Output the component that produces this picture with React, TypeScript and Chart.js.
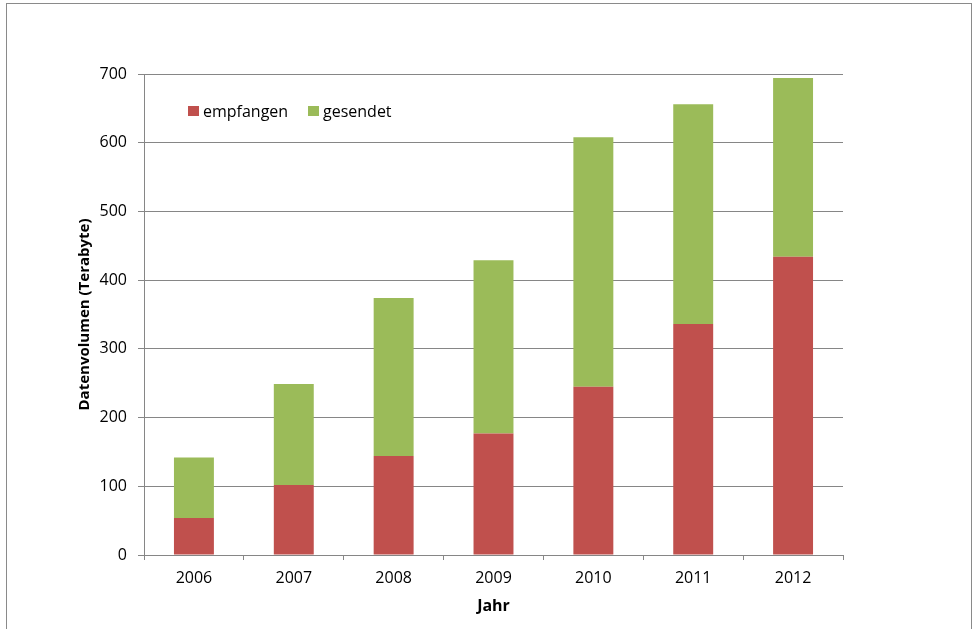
import React, { useEffect, useRef } from "react";
import { Chart, registerables } from "chart.js";

Chart.register(...registerables);

const years = ["2006", "2007", "2008", "2009", "2010", "2011", "2012"];
const empfangen = [54, 102, 144, 177, 245, 336, 434];
const gesendet = [88, 147, 230, 252, 363, 320, 260];
const yTicks = [0, 100, 200, 300, 400, 500, 600, 700];

const RED = "#C0504D";
const GREEN = "#9BBB59";
const GRID = "#868686";
const FONT = "'Open Sans', 'Noto Sans', sans-serif";

export default function App() {
  const ref = useRef<HTMLCanvasElement | null>(null);

  useEffect(() => {
    document.body.style.margin = "0";
    const canvas = ref.current;
    if (!canvas) return;
    const chart = new Chart(canvas, {
      type: "bar",
      data: {
        labels: years,
        datasets: [
          { label: "empfangen", data: empfangen, backgroundColor: RED, borderWidth: 0 },
          { label: "gesendet", data: gesendet, backgroundColor: GREEN, borderWidth: 0 },
        ],
      },
      options: {
        responsive: false,
        animation: false,
        devicePixelRatio: 1,
        layout: { padding: { top: 74, right: 134, left: 0, bottom: 0 } },
        plugins: { legend: { display: false }, tooltip: { enabled: false } },
        datasets: { bar: { barPercentage: 0.5, categoryPercentage: 0.8 } },
        scales: {
          x: {
            stacked: true,
            afterFit: (s: any) => { s.height = 74; },
            grid: { drawOnChartArea: false, drawTicks: true, tickLength: 5, color: GRID, offset: true },
            border: { color: GRID },
            ticks: { color: "#000", font: { family: FONT, size: 16 }, padding: 9 },
            title: {
              display: true,
              text: "Jahr",
              color: "#000",
              font: { family: FONT, size: 16, weight: "bold" },
              padding: { top: 0, bottom: 13 },
            },
          },
          y: {
            stacked: true,
            min: 0,
            max: 700,
            afterFit: (s: any) => { s.width = 144; },
            afterBuildTicks: (s: any) => { s.ticks = yTicks.map((v) => ({ value: v })); },
            grid: { color: GRID, tickLength: 6 },
            border: { color: GRID },
            ticks: { color: "#000", font: { family: FONT, size: 16 }, padding: 11 },
            title: {
              display: true,
              text: "Datenvolumen (Terabyte)",
              color: "#000",
              font: { family: FONT, size: 15, weight: "bold" },
              padding: { top: 76, bottom: 0 },
            },
          },
        },
      },
    });
    return () => chart.destroy();
  }, []);

  const legendItem = (color: string, text: string, left: number) => (
    <div style={{ position: "absolute", left, top: 99, height: 24, display: "flex", alignItems: "center", fontFamily: FONT, fontSize: 16, color: "#000", whiteSpace: "nowrap" }}>
      <span style={{ display: "inline-block", width: 11, height: 10, background: color, marginRight: 4 }} />
      <span>{text}</span>
    </div>
  );

  return (
    <div style={{ position: "relative", width: 977, height: 629, overflow: "hidden", background: "#fff" }}>
      <div style={{ position: "absolute", left: 6, top: 3, width: 966, height: 700, border: "1px solid #8a8a8a", boxSizing: "border-box" }} />
      <canvas ref={ref} width={977} height={629} style={{ position: "absolute", left: 0, top: 0, width: 977, height: 629 }} />
      {legendItem(RED, "empfangen", 188)}
      {legendItem(GREEN, "gesendet", 308)}
    </div>
  );
}
